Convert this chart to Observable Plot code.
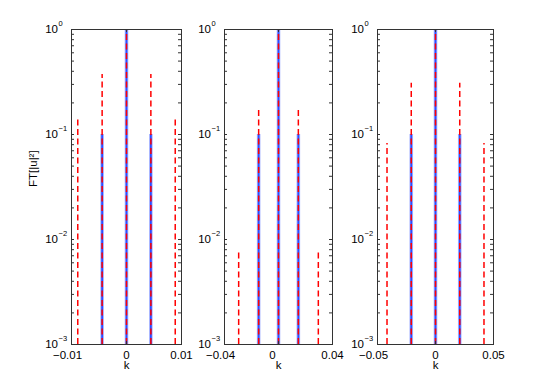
<!DOCTYPE html>
<html><head><meta charset="utf-8">
<script src="https://cdn.jsdelivr.net/npm/d3@7"></script>
<script src="https://cdn.jsdelivr.net/npm/@observablehq/plot@0.6"></script>
<style>
html,body{margin:0;padding:0;background:#fff;}
#chart{position:relative;width:545px;height:388px;font-family:"Liberation Sans",Arial,sans-serif;color:#000;}
#chart svg{position:absolute;left:0;top:0;}
</style></head><body><div id="chart"></div>
<script>
// ---- shared y axis (log) ----
const yTicks = [1, 0.1, 0.01, 0.001];
const yExponents = ["0", "\u22121", "\u22122", "\u22123"];
const yLabel = "FT[|u|\u00b2]";
const xLabel = "k";

// ---- panel 1 ----
const xDomain1 = [-0.01, 0.01];
const xTicks1 = [-0.01, 0, 0.01];
const xTickLabels1 = ["\u22120.01", "0", "0.01"];
const blueK1 = [-0.00443, 0, 0.00443];
const blueAmp1 = [0.1, 1, 0.1];
const redK1 = [-0.00886, -0.00443, 0, 0.00443, 0.00886];
const redAmp1 = [0.139, 0.373, 1, 0.373, 0.139];

// ---- panel 2 ----
const xDomain2 = [-0.04, 0.04];
const xTicks2 = [-0.04, 0, 0.04];
const xTickLabels2 = ["\u22120.04", "0", "0.04"];
const blueK2 = [-0.0147, 0, 0.0147];
const blueAmp2 = [0.1, 1, 0.1];
const redK2 = [-0.0295, -0.0147, 0, 0.0147, 0.0295];
const redAmp2 = [0.0075, 0.181, 1, 0.181, 0.0075];

// ---- panel 3 ----
const xDomain3 = [-0.05, 0.05];
const xTicks3 = [-0.05, 0, 0.05];
const xTickLabels3 = ["\u22120.05", "0", "0.05"];
const blueK3 = [-0.0209, 0, 0.0209];
const blueAmp3 = [0.1, 1, 0.1];
const redK3 = [-0.0418, -0.0209, 0, 0.0209, 0.0418];
const redAmp3 = [0.082, 0.308, 1, 0.308, 0.082];

// layout (pixels)
const W = 545, H = 388, TOP = 29, BOTTOM = 344;
const panels = [
  {left: 71, right: 181, labelDx: [-4, 0, 0], domain: xDomain1, ticks: xTicks1, labels: xTickLabels1, bk: blueK1, ba: blueAmp1, rk: redK1, ra: redAmp1, ylab: true},
  {left: 224, right: 332, labelDx: [-4, -6, 0], domain: xDomain2, ticks: xTicks2, labels: xTickLabels2, bk: blueK2, ba: blueAmp2, rk: redK2, ra: redAmp2},
  {left: 377, right: 493, labelDx: [-4, 0, 0], domain: xDomain3, ticks: xTicks3, labels: xTickLabels3, bk: blueK3, ba: blueAmp3, rk: redK3, ra: redAmp3}
];

// minor log ticks (axis furniture)
const minorTicks = [];
for (const dec of [0.001, 0.01, 0.1]) for (let m = 2; m <= 9; m++) minorTicks.push(dec * m);
const allYTicks = yTicks.concat(minorTicks);

const FONT = "Liberation Sans, Arial, Helvetica, sans-serif";
const TL = 3; // tick length
const axisColor = "#333";

const chart = document.getElementById("chart");
for (const p of panels) {
  const blue = p.bk.map((k, i) => ({k, a: p.ba[i]}));
  const red = p.rk.map((k, i) => ({k, a: p.ra[i]}));
  const fw = p.right - p.left, fh = BOTTOM - TOP;
  const marks = [
    Plot.ruleX(blue, {x: "k", y1: 0.001, y2: "a", stroke: "#a9b6ff", strokeWidth: 3.6}),
    Plot.ruleX(blue, {x: "k", y1: 0.001, y2: "a", stroke: "#2b4bff", strokeWidth: 1.8}),
    Plot.ruleX(red, {x: "k", y1: 0.001, y2: "a", stroke: "#ff0000", strokeWidth: 1.5, strokeDasharray: "6,3.5"}),
    Plot.frame({stroke: axisColor, strokeWidth: 1}),
    Plot.tickY(allYTicks, {y: d => d, insetRight: fw - TL, stroke: axisColor}),
    Plot.tickY(allYTicks, {y: d => d, insetLeft: fw - TL, stroke: axisColor}),
    Plot.tickX(p.ticks, {x: d => d, insetTop: fh - TL, stroke: axisColor}),
    Plot.tickX(p.ticks, {x: d => d, insetBottom: fh - TL, stroke: axisColor}),
    Plot.text(yTicks, {y: d => d, text: () => "10", frameAnchor: "left", textAnchor: "end", lineAnchor: "middle", dx: -13.5, fontSize: 11.5, fill: "#000"}),
    Plot.text(yTicks, {y: d => d, text: (d, i) => yExponents[i], frameAnchor: "left", textAnchor: "start", lineAnchor: "middle", dx: -13, dy: -5.7, fontSize: 7.5, fill: "#000"}),
    Plot.text([xLabel], {text: d => d, frameAnchor: "bottom", lineAnchor: "middle", dy: 21, fontSize: 11.5, fill: "#000"})
  ];
  // x tick labels, one text mark each (small horizontal nudges as in the original)
  p.ticks.forEach((t, i) => {
    marks.push(Plot.text([t], {x: d => d, text: () => p.labels[i], frameAnchor: "bottom", lineAnchor: "top", dy: 6, dx: p.labelDx[i], fontSize: 11.5, fill: "#000"}));
  });
  if (p.ylab) marks.push(Plot.text([yLabel], {text: d => d, frameAnchor: "left", lineAnchor: "middle", rotate: -90, dx: -38, fontSize: 11.5, fill: "#000"}));
  const svg = Plot.plot({
    width: W, height: H,
    marginLeft: p.left, marginRight: W - p.right, marginTop: TOP, marginBottom: H - BOTTOM,
    style: {overflow: "visible", background: "transparent", fontFamily: FONT, fontSize: "11.5px", color: "#000"},
    x: {domain: p.domain, axis: null},
    y: {type: "log", domain: [0.001, 1], axis: null},
    marks
  });
  chart.appendChild(svg);
}
</script></body></html>
